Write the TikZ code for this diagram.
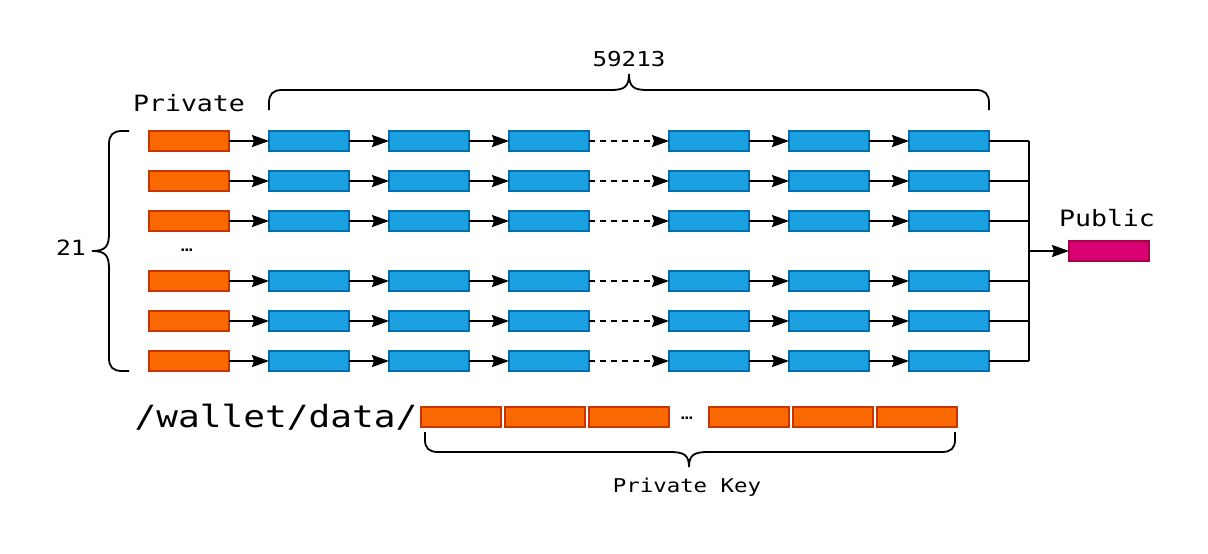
\documentclass[tikz,border=0pt]{standalone}
\usepackage{fontspec}
\newfontfamily\dmono[FakeStretch=1.18]{DejaVu Sans Mono}
\usetikzlibrary{arrows.meta}
\definecolor{orF}{HTML}{FA6800}\definecolor{orD}{HTML}{C73500}
\definecolor{blF}{HTML}{1BA1E2}\definecolor{blD}{HTML}{006EAF}
\definecolor{pkF}{HTML}{D80073}\definecolor{pkD}{HTML}{A50040}
\tikzset{
  cell/.style={minimum width=80pt,minimum height=20pt,inner sep=0pt,outer sep=0pt,line width=1.6pt},
  ocell/.style={cell,fill=orF,draw=orD},
  bcell/.style={cell,fill=blF,draw=blD},
  pcell/.style={cell,fill=pkF,draw=pkD},
  conn/.style={line width=1.8pt,-{Stealth[length=17pt,width=12pt,inset=2pt]}},
  dconn/.style={conn,dash pattern=on 6pt off 5pt},
  wire/.style={line width=1.8pt},
  brace/.style={line width=1.8pt},
  lbl/.style={inner sep=0pt,anchor=base,font=\dmono},
}
\begin{document}
\begin{tikzpicture}[x=1pt,y=-1pt]
\useasboundingbox (0,0) rectangle (1208,554);
% rows
\foreach \i/\y in {1/141,2/181,3/221,4/281,5/321,6/361}{
  \node[ocell] (p\i) at (189,\y) {};
  \foreach \j/\x in {1/309,2/429,3/549,4/709,5/829,6/949}{
    \node[bcell] (b\i\j) at (\x,\y) {};
  }
  \draw[conn] (p\i) -- (b\i1);
  \draw[conn] (b\i1) -- (b\i2);
  \draw[conn] (b\i2) -- (b\i3);
  \draw[dconn] (b\i3) -- (b\i4);
  \draw[conn] (b\i4) -- (b\i5);
  \draw[conn] (b\i5) -- (b\i6);
}
% bus
\coordinate (bt) at (1029,141);
\coordinate (bb) at (1029,361);
\coordinate (bm) at (1029,251);
\foreach \i in {1,...,6}{ \draw[wire] (b\i6.east) -- (b\i6.east -| bt); }
\draw[wire] (bt) -- (bb);
\node[pcell] (pub) at (1109,251) {};
\draw[conn] (bm) -- (pub);
% labels
\node[lbl,font=\dmono\fontsize{22.5}{26}\selectfont] (lpriv) at (189,111) {Private};
\node[lbl,font=\dmono\fontsize{22.5}{26}\selectfont] (lpub) at (1107,226) {Public};
\node[lbl,font=\dmono\fontsize{20.5}{24}\selectfont] (lcnt) at (629,66) {59213};
\node[lbl,font=\dmono\fontsize{21}{24}\selectfont] (lrows) at (71,255) {21};
\node[lbl,font=\dmono\fontsize{17}{20}\selectfont] (dots1) at (187,251) {…};
% top brace
\draw[brace] (269,110) -- (269,103) .. controls (269,94) and (273,90) .. (282,90) -- (611,90)
  .. controls (624,90) and (629,87) .. (629,74)
  .. controls (629,87) and (634,90) .. (647,90) -- (976,90)
  .. controls (985,90) and (989,94) .. (989,103) -- (989,110);
% left brace
\draw[brace] (129,131) -- (122,131) .. controls (113,131) and (109,135) .. (109,144) -- (109,233)
  .. controls (109,246) and (106,251) .. (92,251)
  .. controls (106,251) and (109,256) .. (109,269) -- (109,358)
  .. controls (109,367) and (113,371) .. (122,371) -- (129,371);
% bottom row
\node[lbl,font=\dmono\fontsize{30.6}{36}\selectfont] (path) at (276,427) {/wallet/data/};
\foreach \k/\x in {1/461,2/545,3/629,4/749,5/833,6/917}{
  \node[ocell] (k\k) at (\x,417) {};
}
\node[lbl,font=\dmono\fontsize{17}{20}\selectfont] (dots2) at (687,419) {…};
% bottom brace
\draw[brace] (425,432) -- (425,440) .. controls (425,448) and (429,452) .. (438,452) -- (670,452)
  .. controls (684,452) and (689,455) .. (689,467)
  .. controls (689,455) and (694,452) .. (708,452) -- (942,452)
  .. controls (951,452) and (955,448) .. (955,440) -- (955,432);
\node[lbl,font=\dmono\fontsize{19}{22}\selectfont] (lkey) at (687,492) {Private Key};
\end{tikzpicture}
\end{document}
